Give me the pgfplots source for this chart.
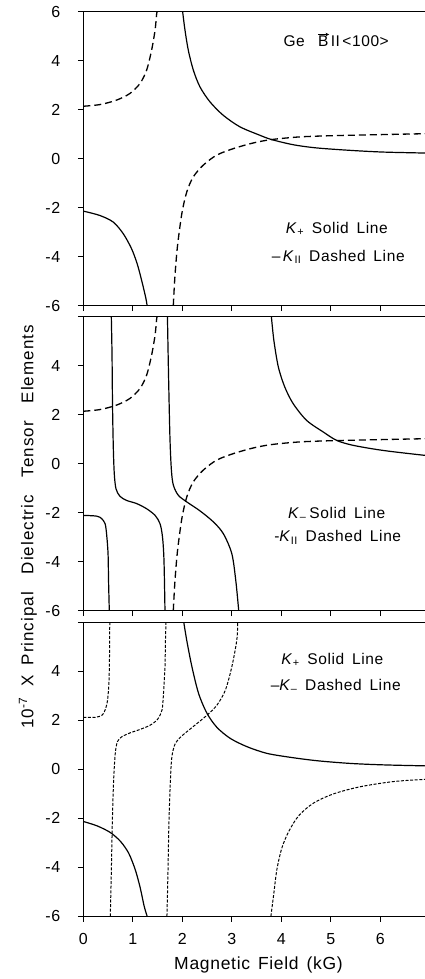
\documentclass[border=0pt]{standalone}
\usepackage{pgfplots}
\pgfplotsset{compat=1.18}
\usetikzlibrary{arrows.meta}
\usepackage{fontspec}
\setmainfont{Liberation Sans}
\newfontfamily\lab[LetterSpace=4]{Liberation Sans}
\newfontfamily\labw[LetterSpace=6]{Liberation Sans}
\tikzset{lbl/.style={font=\lab\fontsize{15.5}{15.5}\selectfont, inner sep=0pt},
  tk/.style={line width=1.3pt, line cap=butt, black}}
\newcommand{\panelticks}{%
  \draw[tk] (axis cs:0,-6) -- ++(0pt,-5.5pt) (axis cs:1,-6) -- ++(0pt,-5.5pt)
    (axis cs:2,-6) -- ++(0pt,-5.5pt) (axis cs:3,-6) -- ++(0pt,-5.5pt)
    (axis cs:4,-6) -- ++(0pt,-5.5pt) (axis cs:5,-6) -- ++(0pt,-5.5pt)
    (axis cs:6,-6) -- ++(0pt,-5.5pt);
  \draw[tk] (axis cs:0,-6) -- ++(-5.5pt,0pt) (axis cs:0,-4) -- ++(-5.5pt,0pt)
    (axis cs:0,-2) -- ++(-5.5pt,0pt) (axis cs:0,0) -- ++(-5.5pt,0pt)
    (axis cs:0,2) -- ++(-5.5pt,0pt) (axis cs:0,4) -- ++(-5.5pt,0pt)
    (axis cs:0,6) -- ++(-5.5pt,0pt);}
\begin{document}
\begin{tikzpicture}
\useasboundingbox (0,0) rectangle (425pt,979pt);
\pgfplotsset{
  panel/.style={
    scale only axis, width=346.5pt, height=294pt,
    xmin=0,xmax=7,ymin=-6,ymax=6,
    xtick={0,1,2,3,4,5,6,7}, ytick={-6,-4,-2,0,2,4,6},
    xtick align=outside, ytick align=outside,
    major tick length=5.5pt,
    xtick pos=bottom, ytick pos=left,
    axis line style={line width=1.3pt},
    xtick style={line width=1.3pt, draw=black},
    ytick style={line width=1.3pt, draw=black},
    anchor=north west,
    clip mode=individual,
    ticklabel style={font=\lab\fontsize{16}{16}\selectfont},
    yticklabel style={xshift=-14pt},
    xticklabel style={yshift=-8pt},
    xticklabels={},
  },
  solidc/.style={black, line width=1.2pt, smooth, tension=0.5},
  dashc/.style={black, line width=1.3pt, dash pattern=on 7pt off 4pt, smooth, tension=0.5},
  dotc/.style={black, line width=1.0pt, dash pattern=on 3pt off 1.6pt, smooth, tension=0.5},
}
% ---------------- Panel 1 ----------------
\begin{axis}[panel, at={(83.3pt,967.3pt)}, yticklabels={-6,-4,-2,0,2,4,6}]
\addplot[solidc] coordinates {(0,-2.14) (0.337,-2.32) (0.606,-2.59) (0.81,-3.07) (0.976,-3.68) (1.09,-4.3) (1.18,-4.98) (1.26,-5.66) (1.29,-6)};
\addplot[solidc] coordinates {(2.007,6.0) (2.054,5.25) (2.121,4.43) (2.222,3.62) (2.357,2.93) (2.559,2.32) (2.828,1.77) (3.165,1.30) (3.569,0.955) (3.805,0.78) (4.24,0.57) (4.71,0.44) (5.39,0.34) (6.06,0.27) (6.90,0.23) (7,0.22)};
\addplot[dashc] coordinates {(0,2.14) (0.34,2.21) (0.67,2.39) (0.94,2.66) (1.145,3.07) (1.28,3.62) (1.38,4.43) (1.45,5.25) (1.48,5.87) (1.49,6)};
\addplot[dashc] coordinates {(1.818,-6) (1.85,-4.84) (1.9,-3.62) (1.99,-2.25) (2.09,-1.36) (2.22,-0.75) (2.42,-0.27) (2.69,0.14) (3.03,0.41) (3.43,0.64) (3.8,0.78) (4.38,0.89) (5.05,0.94) (5.72,0.97) (6.9,1.02) (7,1.03)};
\node[lbl, anchor=base east] at (axis cs:4.48,4.57) {Ge};
\node[lbl, anchor=base west] at (axis cs:4.74,4.57) {B\hspace{0.15em}II\hspace{0.15em}<100>};
\draw[line width=0.8pt, -{Stealth[length=3.5pt,width=3.5pt]}] (axis cs:4.745,5.07) -- (axis cs:4.965,5.07);
\node[lbl] at (axis cs:5.12,-2.85) {\textit{K}\textsubscript{+}\hspace{0.5em}Solid\hspace{0.5em}Line};
\node[lbl] at (axis cs:5.15,-4.0) {–\,\textit{K}\textsubscript{II}\hspace{0.5em}Dashed\hspace{0.5em}Line};
\panelticks
\end{axis}
% ---------------- Panel 2 ----------------
\begin{axis}[panel, at={(83.3pt,662.3pt)}, yticklabels={-6,-4,-2,0,2,4,{}}]
\addplot[solidc] coordinates {(0,-2.11) (0.27,-2.14) (0.37,-2.24) (0.44,-2.45) (0.47,-2.86) (0.5,-3.67) (0.51,-4.76) (0.525,-6)};
\addplot[solidc] coordinates {(0.566,6) (0.58,4.49) (0.59,2.45) (0.606,0.68) (0.626,-0.41) (0.66,-1.02) (0.74,-1.33) (0.875,-1.5) (1.08,-1.63) (1.28,-1.84) (1.45,-2.11) (1.55,-2.45) (1.6,-2.99) (1.63,-3.95) (1.65,-6)};
\addplot[solidc] coordinates {(1.70,6) (1.72,3.81) (1.75,1.09) (1.78,-0.27) (1.82,-0.88) (1.92,-1.29) (2.09,-1.56) (2.36,-1.93) (2.63,-2.38) (2.83,-2.86) (3.0,-3.67) (3.08,-4.76) (3.14,-6)};
\addplot[solidc] coordinates {(3.80,6) (3.85,5.03) (3.94,3.95) (4.07,3.13) (4.24,2.45) (4.51,1.77) (4.85,1.29) (5.12,0.95) (5.45,0.75) (6.06,0.54) (6.9,0.34) (7,0.33)};
\addplot[dashc] coordinates {(0,2.14) (0.34,2.21) (0.67,2.39) (0.94,2.66) (1.145,3.07) (1.28,3.62) (1.38,4.43) (1.45,5.25) (1.48,5.87) (1.49,6)};
\addplot[dashc] coordinates {(1.818,-6) (1.85,-4.84) (1.9,-3.62) (1.99,-2.25) (2.09,-1.36) (2.22,-0.75) (2.42,-0.27) (2.69,0.14) (3.03,0.41) (3.43,0.64) (3.8,0.78) (4.38,0.89) (5.05,0.94) (5.72,0.97) (6.9,1.02) (7,1.03)};
\node[lbl] at (axis cs:5.12,-2.04) {\textit{K}\textsubscript{–}\hspace{0.2em}Solid\hspace{0.5em}Line};
\node[lbl] at (axis cs:5.14,-3.0) {-\textit{K}\textsubscript{II}\hspace{0.5em}Dashed\hspace{0.5em}Line};
\panelticks
\end{axis}
% ---------------- Panel 3 ----------------
\begin{axis}[panel, at={(83.3pt,356.7pt)}, yticklabels={-6,-4,-2,0,2,4,{}}, xticklabels={0,1,2,3,4,5,6,{}}]
\addplot[solidc] coordinates {(0,-2.13) (0.28,-2.31) (0.545,-2.58) (0.75,-2.94) (0.916,-3.42) (1.05,-4.1) (1.15,-4.84) (1.23,-5.59) (1.29,-6)};
\addplot[solidc] coordinates {(2.03,6) (2.09,5.26) (2.195,4.18) (2.33,3.09) (2.5,2.28) (2.7,1.71) (2.97,1.26) (3.31,0.92) (3.71,0.65) (4.18,0.49) (4.72,0.35) (5.39,0.24) (6.07,0.18) (6.91,0.14) (7,0.14)};
\addplot[dotc] coordinates {(0,2.12) (0.24,2.12) (0.38,2.21) (0.44,2.42) (0.49,2.82) (0.52,3.64) (0.53,4.72) (0.535,6)};
\addplot[dotc] coordinates {(0.545,-6) (0.566,-4.23) (0.586,-2.2) (0.613,-0.43) (0.646,0.65) (0.69,1.13) (0.78,1.33) (0.95,1.49) (1.15,1.63) (1.35,1.8) (1.5,2.04) (1.59,2.42) (1.62,3.09) (1.65,4.18) (1.66,5.26) (1.67,6)};
\addplot[dotc] coordinates {(1.69,-6) (1.71,-4.23) (1.73,-2.2) (1.76,-0.43) (1.79,0.52) (1.86,1.06) (1.99,1.36) (2.2,1.71) (2.5,2.21) (2.7,2.62) (2.87,3.23) (3.0,4.18) (3.1,5.26) (3.12,6)};
\addplot[dotc] coordinates {(3.79,-6) (3.85,-5.05) (3.91,-4.1) (4.01,-3.22) (4.15,-2.54) (4.35,-1.9) (4.65,-1.38) (5.06,-1.0) (5.6,-0.71) (6.27,-0.50) (6.91,-0.41) (7,-0.40)};
\node[lbl] at (axis cs:5.03,4.46) {\textit{K}\textsubscript{+}\hspace{0.5em}Solid\hspace{0.5em}Line};
\node[lbl] at (axis cs:5.1,3.4) {–\textit{K}\textsubscript{–}\hspace{0.5em}Dashed\hspace{0.5em}Line};
\panelticks
\end{axis}
% axis titles
\node[font=\lab\fontsize{17.5}{17.5}\selectfont, inner sep=0pt] at (258.5pt,14pt) {Magnetic\hspace{0.45em}Field\hspace{0.45em}(kG)};
\node[font=\labw\fontsize{17}{17}\selectfont, inner sep=0pt, rotate=90] at (28pt,452pt) {10\textsuperscript{-7}\hspace{0.6em}X\hspace{0.6em}Principal\hspace{1.05em}Dielectric\hspace{1.05em}Tensor\hspace{1.05em}Elements};
\end{tikzpicture}
\end{document}
